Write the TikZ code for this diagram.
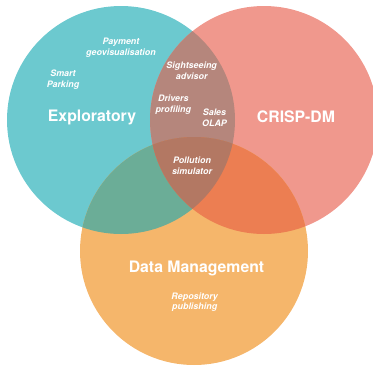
\documentclass[tikz,border=0pt]{standalone}
\usepackage{fontspec}
\setmainfont{TeX Gyre Heros}
\definecolor{explc}{RGB}{108,201,207}
\definecolor{crispc}{RGB}{240,152,141}
\definecolor{dmc}{RGB}{245,182,107}
\definecolor{explcrisp}{RGB}{181,134,124}
\definecolor{expldm}{RGB}{107,173,151}
\definecolor{crispdm}{RGB}{236,126,82}
\definecolor{allc}{RGB}{179,120,99}
\begin{document}
\begin{tikzpicture}[x=1pt, y=-1pt,
	setlabel/.style={text=white, font=\fontsize{15.8}{18}\selectfont\bfseries},
	item/.style={text=white, align=center, font=\fontsize{8.9}{10.6}\selectfont\bfseries\itshape}]
	\useasboundingbox (0,0) rectangle (373,368);
	\clip (0,0) rectangle (373,368);
	
	% Circles
	\coordinate (expl) at (121,120);
	\coordinate (crisp) at (264,120);
	\coordinate (dm) at (194,251);
	\fill[explc] (expl) circle (114pt);
	\fill[crispc] (crisp) circle (114pt);
	\fill[dmc] (dm) circle (114pt);
	
	% Overlaps
	\begin{scope}
		\clip (expl) circle (114pt);
		\fill[explcrisp] (crisp) circle (114pt);
		\fill[expldm] (dm) circle (114pt);
		\clip (crisp) circle (114pt);
		\fill[allc] (dm) circle (114pt);
	\end{scope}
	\begin{scope}
		\clip (crisp) circle (114pt);
		\fill[crispdm] (dm) circle (114pt);
		\clip (expl) circle (114pt);
		\fill[allc] (dm) circle (114pt);
	\end{scope}
	
	% Set names
	\node[setlabel] (explname) at (92,117) {Exploratory};
	\node[setlabel] (crispname) at (296,117) {CRISP-DM};
	\node[setlabel] (dmname) at (196.5,268) {Data Management};
	
	% Projects
	\node[item] (payment) at (121,47.5) {Payment\\geovisualisation};
	\node[item] (parking) at (63,79.5) {Smart\\Parking};
	\node[item] (sightseeing) at (191.7,70.5) {Sightseeing\\advisor};
	\node[item] (drivers) at (173.3,104.5) {Drivers\\profiling};
	\node[item] (sales) at (214.5,117.5) {Sales\\OLAP};
	\node[item] (pollution) at (192,165.5) {Pollution\\simulator};
	\node[item] (repository) at (194.7,302) {Repository\\publishing};
\end{tikzpicture}
\end{document}
